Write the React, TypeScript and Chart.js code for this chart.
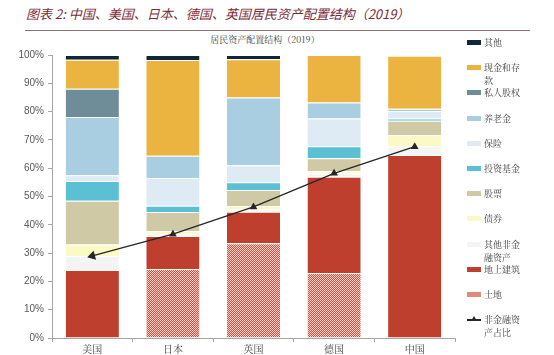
import React, { useEffect, useRef } from "react";
import { Chart, registerables } from "chart.js";

Chart.register(...registerables);

const categories = ["美国", "日本", "英国", "德国", "中国"];

const land = [0, 24.4, 33.5, 23, 0];
const buildings = [24, 11.6, 11.1, 34, 64.7];
const otherNonFin = [5, 0.6, 0.9, 1.2, 3];
const bonds = [4, 1.1, 1.1, 0.8, 4];
const stocks = [15.5, 6.8, 5.7, 4.5, 5.1];
const funds = [7, 2.2, 2.7, 4.3, 0.8];
const insurance = [2, 9.8, 6, 9.8, 2.6];
const pension = [20.6, 7.9, 24, 5.6, 0.8];
const privateEquity = [10, 0, 0, 0, 0];
const cash = [10.2, 33.8, 13.5, 16.8, 18.7];
const others = [1.7, 1.8, 1.5, 0, 0];
const nonFinShare = [29, 36.7, 46.3, 58.2, 67.6];

const yTicks = [0, 10, 20, 30, 40, 50, 60, 70, 80, 90, 100];

function makeLandPattern(): CanvasPattern | string {
  const c = document.createElement("canvas");
  c.width = 2;
  c.height = 2;
  const g = c.getContext("2d");
  if (!g) return "#dd8074";
  g.fillStyle = "#cf5345";
  g.fillRect(0, 0, 2, 2);
  g.fillStyle = "#f6d2ca";
  g.fillRect(0, 0, 1, 1);
  g.fillRect(1, 1, 1, 1);
  const p = g.createPattern(c, "repeat");
  return p || "#dd8074";
}

const legendItems = [
  { label: "其他", color: "#10273b", kind: "box" },
  { label: "现金和存\n款", color: "#ebb441", kind: "box" },
  { label: "私人股权", color: "#6e8d99", kind: "box" },
  { label: "养老金", color: "#a9cee2", kind: "box" },
  { label: "保险", color: "#deebf4", kind: "box" },
  { label: "投资基金", color: "#5cc0d5", kind: "box" },
  { label: "股票", color: "#cfc9a5", kind: "box" },
  { label: "债券", color: "#fbf9c4", kind: "box" },
  { label: "其他非金\n融资产", color: "#f4f4f4", kind: "box" },
  { label: "地上建筑", color: "#bf3f2e", kind: "box" },
  { label: "土地", color: "#e08a7e", kind: "box" },
  { label: "非金融资\n产占比", color: "#262626", kind: "line" },
];

export default function App() {
  const ref = useRef<HTMLCanvasElement | null>(null);

  useEffect(() => {
    if (!ref.current) return;
    const pattern = makeLandPattern();
    const bar = (label: string, data: number[], color: any) => ({
      type: "bar" as const,
      label,
      data,
      backgroundColor: color,
      borderColor: "#ffffff",
      borderWidth: { top: 1, bottom: 0, left: 0, right: 0 },
      borderSkipped: false,
      stack: "s",
      barPercentage: 0.66,
      categoryPercentage: 1,
      order: 2,
    });
    const chart = new Chart(ref.current, {
      type: "bar",
      data: {
        labels: categories,
        datasets: [
          {
            type: "line" as const,
            label: "非金融资产占比",
            data: nonFinShare,
            borderColor: "#262626",
            backgroundColor: "#262626",
            borderWidth: 1.3,
            pointStyle: "triangle",
            pointRadius: [4, 3.2, 3.2, 3.2, 3.2],
            pointRotation: [255, 0, 0, 0, 0],
            tension: 0,
            order: 0,
          } as any,
          bar("土地", land, pattern),
          bar("地上建筑", buildings, "#bf3f2e"),
          bar("其他非金融资产", otherNonFin, "#f4f4f4"),
          bar("债券", bonds, "#fbf9c4"),
          bar("股票", stocks, "#cfc9a5"),
          bar("投资基金", funds, "#5cc0d5"),
          bar("保险", insurance, "#deebf4"),
          bar("养老金", pension, "#a9cee2"),
          bar("私人股权", privateEquity, "#6e8d99"),
          bar("现金和存款", cash, "#ebb441"),
          bar("其他", others, "#10273b"),
        ],
      },
      options: {
        animation: false,
        responsive: false,
        maintainAspectRatio: false,
        layout: { padding: { top: 55, right: 99, left: 0, bottom: 0 } },
        plugins: {
          legend: { display: false },
          title: { display: false },
          tooltip: { enabled: false },
        },
        scales: {
          x: {
            stacked: true,
            grid: {
              display: true,
              drawOnChartArea: false,
              drawTicks: true,
              tickLength: 4,
              offset: true,
              color: "#a6a6a6",
            },
            border: { display: true, color: "#a6a6a6" },
            ticks: {
              color: "#404040",
              font: { family: "'Noto Serif CJK SC', 'Noto Sans CJK SC', serif", size: 10 },
              padding: 1,
            },
            afterFit: (s: any) => {
              s.height = 17;
            },
          },
          y: {
            stacked: true,
            min: 0,
            max: 100,
            grid: {
              display: true,
              drawOnChartArea: false,
              drawTicks: true,
              tickLength: 4,
              color: "#a6a6a6",
            },
            border: { display: true, color: "#a6a6a6" },
            afterBuildTicks: (s: any) => {
              s.ticks = yTicks.map((v) => ({ value: v }));
            },
            ticks: {
              color: "#595959",
              font: { family: "'Liberation Sans', Arial, sans-serif", size: 10 },
              padding: 4,
              callback: (v: any) => v + "%",
            },
            afterFit: (s: any) => {
              s.width = 52;
            },
          },
        },
      },
    });
    return () => chart.destroy();
  }, []);

  return (
    <div
      style={{
        position: "absolute",
        left: 0,
        top: 0,
        width: 554,
        height: 355,
        background: "#ffffff",
        overflow: "hidden",
      }}
    >
      <div
        style={{
          position: "absolute",
          left: 26,
          top: 5,
          fontFamily: "'Noto Sans CJK SC', sans-serif",
          fontStyle: "italic",
          fontSize: 13,
          color: "#7a2b3a",
          whiteSpace: "nowrap",
          lineHeight: "18px",
        }}
      >
        图表 2: 中国、美国、日本、德国、英国居民资产配置结构（2019）
      </div>
      <div
        style={{
          position: "absolute",
          left: 25,
          top: 30,
          width: 505,
          height: 1,
          background: "#8e7474",
        }}
      />
      <div
        style={{
          position: "absolute",
          left: 200,
          top: 34,
          width: 130,
          textAlign: "center",
          fontFamily: "'Noto Serif CJK SC', 'Noto Sans CJK SC', serif",
          fontSize: 9,
          color: "#404040",
          lineHeight: "12px",
          whiteSpace: "nowrap",
        }}
      >
        居民资产配置结构（2019）
      </div>
      <canvas
        ref={ref}
        width={554}
        height={355}
        style={{ position: "absolute", left: 0, top: 0, width: 554, height: 355 }}
      />
      {legendItems.map((it, i) => (
        <div
          key={it.label}
          style={{
            position: "absolute",
            left: 467,
            top: 36 + i * 25.2,
            display: "flex",
            alignItems: "flex-start",
            fontFamily: "'Noto Serif CJK SC', 'Noto Sans CJK SC', serif",
            fontSize: 9,
            color: "#404040",
            lineHeight: "13px",
          }}
        >
          <div style={{ width: 14, height: 13, position: "relative", marginRight: 3 }}>
            {it.kind === "box" ? (
              <div
                style={{
                  position: "absolute",
                  left: 0,
                  top: 4,
                  width: 14,
                  height: 5,
                  background: it.color,
                }}
              />
            ) : (
              <>
                <div
                  style={{
                    position: "absolute",
                    left: 0,
                    top: 6,
                    width: 14,
                    height: 1.5,
                    background: it.color,
                  }}
                />
                <div
                  style={{
                    position: "absolute",
                    left: 4,
                    top: 3,
                    width: 0,
                    height: 0,
                    borderLeft: "3px solid transparent",
                    borderRight: "3px solid transparent",
                    borderBottom: "5px solid " + it.color,
                  }}
                />
              </>
            )}
          </div>
          <div style={{ whiteSpace: "pre" }}>{it.label}</div>
        </div>
      ))}
    </div>
  );
}
